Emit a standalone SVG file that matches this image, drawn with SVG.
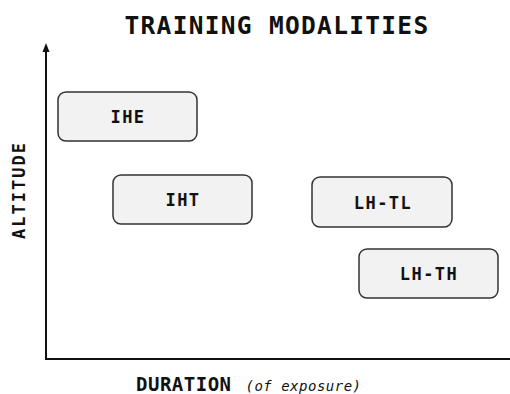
<svg xmlns="http://www.w3.org/2000/svg" width="510" height="394" viewBox="0 0 510 394">
<style>
.box{fill:#f2f2f2;stroke:#333;stroke-width:1.5}
.lbl{font-family:"DejaVu Sans Mono",monospace;font-weight:bold;font-size:17px;letter-spacing:1.5px;text-anchor:middle;fill:#111}
.ax{stroke:#111;stroke-width:2;fill:none}
</style>
<rect width="510" height="394" fill="#fff"/>
<text x="277" y="34" font-family="DejaVu Sans Mono,monospace" font-weight="bold" font-size="24.5" letter-spacing="1.3" text-anchor="middle" fill="#111">TRAINING MODALITIES</text>
<g id="axes">
<path class="ax" d="M46,359 L46,47"/>
<path d="M42.5,52 L46,43 L49.5,52 Z" fill="#111"/>
<path class="ax" d="M45,359 L510,359"/>
</g>
<text transform="translate(25,190) rotate(-90)" font-family="DejaVu Sans Mono,monospace" font-weight="bold" font-size="17" letter-spacing="2" text-anchor="middle" fill="#111">ALTITUDE</text>
<text x="136" y="391" font-family="DejaVu Sans Mono,monospace" font-weight="bold" font-size="19" letter-spacing="0.5" fill="#111">DURATION <tspan font-size="14" font-weight="normal" font-style="italic" dx="2">(of exposure)</tspan></text>
<g id="IHE"><rect class="box" x="58" y="92" width="139" height="49" rx="8"/><text class="lbl" x="128" y="123">IHE</text></g>
<g id="IHT"><rect class="box" x="113" y="175" width="139" height="49" rx="8"/><text class="lbl" x="183" y="206">IHT</text></g>
<g id="LH-TL"><rect class="box" x="312" y="177" width="140" height="50" rx="8"/><text class="lbl" x="383" y="209">LH-TL</text></g>
<g id="LH-TH"><rect class="box" x="359" y="249" width="139" height="49" rx="8"/><text class="lbl" x="429" y="280">LH-TH</text></g>
</svg>
